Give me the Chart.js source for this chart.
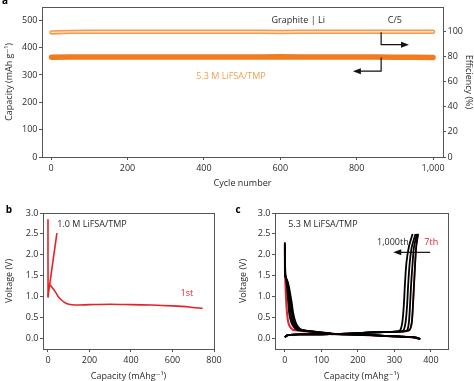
<!DOCTYPE html>
<html><head><meta charset="utf-8">
<script src="https://cdn.jsdelivr.net/npm/chart.js@4/dist/chart.umd.min.js"></script>
<style>
html,body{margin:0;padding:0;background:#fff;overflow:hidden;width:474px;height:381px}
canvas{position:absolute}
#ca{left:0;top:0}
#cb{left:0;top:195px}
#cc{left:234px;top:195px}
</style></head><body>
<canvas id="ca" width="474" height="195"></canvas>
<canvas id="cb" width="234" height="186"></canvas>
<canvas id="cc" width="240" height="186"></canvas>
<script>
// ---------- Panel a data ----------
const cycleNumbers = [1, 50, 100, 150, 200, 250, 300, 350, 400, 450, 500, 550, 600, 650, 700, 750, 800, 850, 900, 950, 1000];
const capacityValues = [365, 366, 366, 366, 366, 366, 366, 366, 366, 366, 366, 366, 367, 366, 366, 366, 366, 366, 365, 365, 364];
const efficiencyValues = [99.3, 99.7, 99.8, 99.8, 99.8, 99.8, 99.8, 99.8, 99.8, 99.8, 99.8, 99.8, 99.6, 99.8, 99.8, 99.8, 99.8, 99.8, 99.8, 99.8, 99.8];
const capTicksA = [0, 100, 200, 300, 400, 500];
const effTicksA = [0, 20, 40, 60, 80, 100];
const cycleTicksA = [0, 200, 400, 600, 800, 1000];

// ---------- Panel b data (1.0 M, 1st cycle) ----------
const b1DisCap = [0, 0.5, 3, 10, 20, 35, 50, 65, 80, 100, 130, 200, 300, 400, 500, 600, 680, 745];
const b1DisV   = [2.85, 1.0, 1.26, 1.28, 1.22, 1.12, 1.0, 0.92, 0.86, 0.82, 0.8, 0.81, 0.82, 0.81, 0.8, 0.78, 0.755, 0.72];
const b1ChgCap = [0, 43];
const b1ChgV   = [1.0, 2.52];
const voltTicks = [0, 0.5, 1, 1.5, 2, 2.5, 3];
const capTicksB = [0, 200, 400, 600, 800];
const capTicksC = [0, 100, 200, 300, 400];

// ---------- Panel c data (5.3 M, cycles) ----------
const c7DisCap = [0, 0.3, 1, 2, 3.5, 6, 9, 14, 22, 36, 58, 90, 120, 160, 200, 250, 300, 330, 355, 368];
const c7DisV   = [2.28, 1.6, 1.45, 1.2, 0.9, 0.6, 0.4, 0.28, 0.21, 0.19, 0.17, 0.14, 0.11, 0.1, 0.09, 0.07, 0.05, 0.04, 0.02, -0.01];
const c7ChgCap = [0, 5, 15, 40, 100, 150, 200, 250, 300, 328, 342, 348, 351, 354, 357, 360, 365];
const c7ChgV   = [0.03, 0.07, 0.09, 0.1, 0.1, 0.11, 0.13, 0.15, 0.16, 0.17, 0.21, 0.4, 0.8, 1.3, 1.8, 2.2, 2.5];

const c100DisCap = [0, 0.5, 3, 6, 9, 12, 17, 24, 33, 45, 65, 95, 125, 165, 205, 255, 300, 335, 358, 370];
const c100DisV   = [2.3, 1.55, 1.45, 1.2, 0.9, 0.6, 0.4, 0.28, 0.21, 0.19, 0.17, 0.14, 0.11, 0.1, 0.09, 0.07, 0.05, 0.04, 0.02, -0.01];
const c100ChgCap = [0, 5, 15, 40, 100, 150, 200, 250, 300, 328, 342, 348, 351, 354, 357, 360, 365];
const c100ChgV   = [0.03, 0.07, 0.09, 0.1, 0.1, 0.11, 0.13, 0.15, 0.16, 0.17, 0.21, 0.4, 0.8, 1.3, 1.8, 2.2, 2.5];

const c400DisCap = [0, 1, 4, 8, 12, 16, 21, 28, 37, 50, 70, 100, 130, 170, 210, 260, 305, 338, 360, 371];
const c400DisV   = [2.25, 1.5, 1.42, 1.2, 0.9, 0.6, 0.4, 0.28, 0.21, 0.19, 0.17, 0.14, 0.11, 0.1, 0.09, 0.07, 0.05, 0.04, 0.02, -0.01];
const c400ChgCap = [0, 5, 15, 40, 100, 150, 200, 250, 295, 320, 335, 340, 343, 346, 350, 354, 362];
const c400ChgV   = [0.03, 0.07, 0.09, 0.1, 0.1, 0.11, 0.13, 0.15, 0.16, 0.17, 0.2, 0.4, 0.8, 1.3, 1.8, 2.2, 2.5];

const c700DisCap = [0, 1.5, 6, 10, 15, 20, 25, 32, 42, 55, 75, 105, 135, 175, 215, 262, 305, 340, 360, 372];
const c700DisV   = [2.2, 1.48, 1.4, 1.2, 0.9, 0.6, 0.4, 0.28, 0.21, 0.19, 0.17, 0.14, 0.11, 0.1, 0.09, 0.07, 0.05, 0.04, 0.02, -0.01];
const c700ChgCap = [0, 5, 15, 40, 100, 150, 200, 250, 290, 312, 325, 331, 335, 338, 342, 348, 358];
const c700ChgV   = [0.03, 0.07, 0.09, 0.1, 0.1, 0.11, 0.13, 0.15, 0.16, 0.17, 0.2, 0.4, 0.8, 1.3, 1.8, 2.2, 2.5];

const c1000DisCap = [0, 2, 8, 13, 18, 23, 29, 36, 46, 58, 78, 108, 140, 180, 220, 265, 308, 340, 360, 370];
const c1000DisV   = [2.15, 1.45, 1.35, 1.15, 0.9, 0.6, 0.4, 0.28, 0.21, 0.19, 0.17, 0.14, 0.11, 0.1, 0.09, 0.07, 0.05, 0.04, 0.02, -0.01];
const c1000ChgCap = [0, 5, 15, 40, 100, 150, 200, 250, 285, 305, 316, 322, 326, 329, 333, 340, 350];
const c1000ChgV   = [0.03, 0.07, 0.09, 0.1, 0.1, 0.11, 0.13, 0.15, 0.16, 0.17, 0.2, 0.4, 0.8, 1.3, 1.8, 2.2, 2.5];

// ---------- helpers ----------
const zip = (xs, ys) => xs.map((x, i) => ({x: x, y: ys[i]}));
const FONT = "'Open Sans', 'DejaVu Sans', sans-serif";
Chart.defaults.font.family = FONT;
Chart.defaults.font.size = 9;
Chart.defaults.color = '#2a2a2a';
const AX = '#555';

const framePlugin = {
  id: 'frame',
  afterDraw(chart) {
    const {ctx, chartArea: a} = chart;
    ctx.save();
    ctx.strokeStyle = AX; ctx.lineWidth = 1;
    ctx.strokeRect(Math.round(a.left) + 0.5, Math.round(a.top) + 0.5, Math.round(a.right - a.left), Math.round(a.bottom - a.top));
    ctx.restore();
  }
};
function fixedTicks(arr) { return s => { s.ticks = arr.map(v => ({value: v})); }; }
function gridOpts() { return {display: true, drawOnChartArea: false, drawTicks: true, tickLength: 3, tickColor: AX, lineWidth: 1}; }
function txt(ctx, s, x, y, color, align, size, bold) {
  ctx.save();
  ctx.fillStyle = color; ctx.textAlign = align || 'center'; ctx.textBaseline = 'middle';
  ctx.font = (bold ? 'bold ' : '') + (size || 9) + 'px ' + FONT;
  ctx.fillText(s, x, y);
  ctx.restore();
}
function arrowHead(ctx, x, y, dir, color) {
  ctx.save(); ctx.fillStyle = color; ctx.beginPath();
  ctx.moveTo(x, y); ctx.lineTo(x - dir * 8, y - 3); ctx.lineTo(x - dir * 8, y + 3); ctx.closePath(); ctx.fill(); ctx.restore();
}

// ---------- Panel a ----------
const annotA = {
  id: 'annotA',
  afterDraw(chart) {
    const {ctx} = chart;
    const x = chart.scales.x, yl = chart.scales.y, yr = chart.scales.y2;
    txt(ctx, 'a', 2, 1, '#000', 'left', 10, true);
    txt(ctx, 'Graphite | Li', x.getPixelForValue(647), yl.getPixelForValue(500), '#2a2a2a');
    txt(ctx, 'C/5', x.getPixelForValue(900), yl.getPixelForValue(500), '#2a2a2a');
    txt(ctx, '5.3 M LiFSA/TMP', x.getPixelForValue(471), yl.getPixelForValue(296), '#f0a14e');
    ctx.save(); ctx.strokeStyle = '#111'; ctx.lineWidth = 1.2;
    let vx = x.getPixelForValue(864);
    ctx.beginPath(); ctx.moveTo(vx, yr.getPixelForValue(99.5)); ctx.lineTo(vx, yr.getPixelForValue(89.5));
    ctx.lineTo(x.getPixelForValue(925), yr.getPixelForValue(89.5)); ctx.stroke();
    arrowHead(ctx, x.getPixelForValue(937), yr.getPixelForValue(89.5), 1, '#111');
    ctx.beginPath(); ctx.moveTo(vx, yl.getPixelForValue(364)); ctx.lineTo(vx, yl.getPixelForValue(314));
    ctx.lineTo(x.getPixelForValue(802), yl.getPixelForValue(314)); ctx.stroke();
    arrowHead(ctx, x.getPixelForValue(790), yl.getPixelForValue(314), -1, '#111');
    ctx.restore();
  }
};
// Note: Chart.js draws dataset 0 on top, so inner highlight comes first.
new Chart(document.getElementById('ca'), {
  type: 'scatter',
  data: {datasets: [
    {data: zip(cycleNumbers, efficiencyValues), yAxisID: 'y2', showLine: true, borderColor: '#fde2c6', borderWidth: 1.3, pointRadius: 0, borderCapStyle: 'round'},
    {data: zip(cycleNumbers, efficiencyValues), yAxisID: 'y2', showLine: true, borderColor: '#f39a4c', borderWidth: 4.5, pointRadius: 0, borderCapStyle: 'round'},
    {data: zip(cycleNumbers, capacityValues), yAxisID: 'y', showLine: true, borderColor: '#f07c1f', borderWidth: 5.5, pointRadius: 0, borderCapStyle: 'round'}
  ]},
  options: {
    responsive: false, animation: false, devicePixelRatio: 1,
    layout: {padding: {top: 3, left: 0, right: 0, bottom: 0}},
    plugins: {legend: {display: false}, tooltip: {enabled: false}},
    scales: {
      x: {type: 'linear', min: -24, max: 1026, afterBuildTicks: fixedTicks(cycleTicksA), afterFit: s => { s.height = 38; },
          grid: gridOpts(), border: {display: false}, ticks: {padding: 3},
          title: {display: true, text: 'Cycle number', padding: {top: 0, bottom: 6.5}}},
      y: {position: 'left', min: 0, max: 549, afterBuildTicks: fixedTicks(capTicksA), afterFit: s => { s.width = 42; },
          grid: gridOpts(), border: {display: false}, ticks: {padding: 1.5},
          title: {display: true, text: 'Capacity (mAh g⁻¹)', padding: {top: 3.6, bottom: 0}}},
      y2: {position: 'right', min: 0, max: 119.6, afterBuildTicks: fixedTicks(effTicksA), afterFit: s => { s.width = 31; },
          grid: gridOpts(), border: {display: false}, ticks: {padding: 1.5},
          title: {display: true, text: 'Efficiency (%)', padding: {top: 0, bottom: 0}}}
    }
  },
  plugins: [framePlugin, annotA]
});

// ---------- Panel b ----------
const annotB = {
  id: 'annotB',
  afterDraw(chart) {
    const {ctx} = chart; const x = chart.scales.x, y = chart.scales.y;
    txt(ctx, 'b', 9, 15, '#000', 'center', 10, true);
    txt(ctx, '1.0 M LiFSA/TMP', x.getPixelForValue(45), y.getPixelForValue(2.73), '#2a2a2a', 'left');
    txt(ctx, '1st', x.getPixelForValue(669), y.getPixelForValue(1.07), '#e0242b');
  }
};
new Chart(document.getElementById('cb'), {
  type: 'scatter',
  data: {datasets: [
    {data: zip(b1DisCap, b1DisV), showLine: true, borderColor: '#e5222a', borderWidth: 1.6, pointRadius: 0, tension: 0.3},
    {data: zip(b1ChgCap, b1ChgV), showLine: true, borderColor: '#e5222a', borderWidth: 1.6, pointRadius: 0}
  ]},
  options: {
    responsive: false, animation: false, devicePixelRatio: 1,
    layout: {padding: {top: 18, left: 0, right: 20, bottom: 0}},
    plugins: {legend: {display: false}, tooltip: {enabled: false}},
    scales: {
      x: {type: 'linear', min: -24, max: 800, afterBuildTicks: fixedTicks(capTicksB), afterFit: s => { s.height = 32; },
          grid: gridOpts(), border: {display: false}, ticks: {padding: 3},
          title: {display: true, text: 'Capacity (mAhg⁻¹)', font: {lineHeight: 1}, padding: {top: 0, bottom: 0}}},
      y: {min: -0.25, max: 3.0, afterBuildTicks: fixedTicks(voltTicks), afterFit: s => { s.width = 43; },
          grid: gridOpts(), border: {display: false}, ticks: {padding: 1.5, callback: v => v.toFixed(1)},
          title: {display: true, text: 'Voltage (V)', padding: {top: 3.6, bottom: 0}}}
    }
  },
  plugins: [framePlugin, annotB]
});

// ---------- Panel c ----------
const annotC = {
  id: 'annotC',
  afterDraw(chart) {
    const {ctx} = chart; const x = chart.scales.x, y = chart.scales.y;
    txt(ctx, 'c', 4, 15, '#000', 'center', 10, true);
    txt(ctx, '5.3 M LiFSA/TMP', x.getPixelForValue(9), y.getPixelForValue(2.73), '#2a2a2a', 'left');
    txt(ctx, '1,000th', x.getPixelForValue(296), y.getPixelForValue(2.29), '#2a2a2a');
    txt(ctx, '7th', x.getPixelForValue(401), y.getPixelForValue(2.29), '#e0242b');
    ctx.save(); ctx.strokeStyle = '#111'; ctx.lineWidth = 1.2;
    ctx.beginPath(); ctx.moveTo(x.getPixelForValue(398), y.getPixelForValue(2.06)); ctx.lineTo(x.getPixelForValue(318), y.getPixelForValue(2.06)); ctx.stroke();
    ctx.restore();
    arrowHead(ctx, x.getPixelForValue(297), y.getPixelForValue(2.06), -1, '#111');
  }
};
function cyc(cap, v, color, w) { return {data: zip(cap, v), showLine: true, borderColor: color, borderWidth: w, pointRadius: 0, tension: 0.25}; }
// Chart.js draws dataset 0 on top: black cycles first, red 7th last (bottom layer).
new Chart(document.getElementById('cc'), {
  type: 'scatter',
  data: {datasets: [
    cyc(c100DisCap, c100DisV, '#000', 1.8), cyc(c100ChgCap, c100ChgV, '#000', 1.8),
    cyc(c400DisCap, c400DisV, '#000', 1.8), cyc(c400ChgCap, c400ChgV, '#000', 1.8),
    cyc(c700DisCap, c700DisV, '#000', 1.8), cyc(c700ChgCap, c700ChgV, '#000', 1.8),
    cyc(c1000DisCap, c1000DisV, '#000', 1.8), cyc(c1000ChgCap, c1000ChgV, '#000', 1.8),
    cyc(c7DisCap, c7DisV, '#e5222a', 2), cyc(c7ChgCap, c7ChgV, '#e5222a', 1.6)
  ]},
  options: {
    responsive: false, animation: false, devicePixelRatio: 1,
    layout: {padding: {top: 18, left: 0, right: 26, bottom: 0}},
    plugins: {legend: {display: false}, tooltip: {enabled: false}},
    scales: {
      x: {type: 'linear', min: -27, max: 447, afterBuildTicks: fixedTicks(capTicksC), afterFit: s => { s.height = 32; },
          grid: gridOpts(), border: {display: false}, ticks: {padding: 3},
          title: {display: true, text: 'Capacity (mAhg⁻¹)', font: {lineHeight: 1}, padding: {top: 0, bottom: 0}}},
      y: {min: -0.25, max: 3.0, afterBuildTicks: fixedTicks(voltTicks), afterFit: s => { s.width = 41; },
          grid: gridOpts(), border: {display: false}, ticks: {padding: 1.5, callback: v => v.toFixed(1)},
          title: {display: true, text: 'Voltage (V)', padding: {top: 4, bottom: 0}}}
    }
  },
  plugins: [framePlugin, annotC]
});
</script>
</body></html>
